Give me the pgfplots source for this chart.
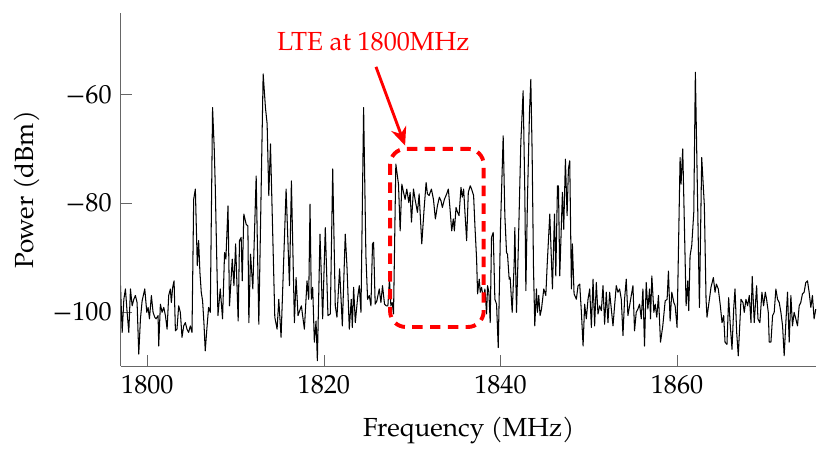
\documentclass[border=0pt]{standalone}
\usepackage{fontspec}
\setmainfont{TeX Gyre Pagella}
\usepackage{pgfplots}
\pgfplotsset{compat=1.18}
\usetikzlibrary{arrows.meta}
\pgfplotstableread{
x y
1796.80 -102.0
1796.96 -95.2
1797.15 -103.8
1797.34 -97.7
1797.52 -95.8
1797.71 -100.1
1797.90 -103.8
1798.09 -95.8
1798.28 -98.9
1798.47 -97.7
1798.65 -97.0
1798.84 -98.3
1799.03 -107.8
1799.22 -101.3
1799.41 -98.0
1799.71 -95.8
1799.94 -100.1
1800.09 -99.2
1800.24 -101.3
1800.46 -97.0
1800.65 -100.1
1800.84 -101.0
1800.99 -101.3
1801.22 -100.7
1801.29 -106.3
1801.48 -98.6
1801.67 -100.1
1801.86 -99.2
1802.05 -100.7
1802.24 -103.2
1802.42 -97.0
1802.61 -95.8
1802.72 -98.3
1802.87 -95.5
1803.03 -94.3
1803.18 -103.5
1803.36 -103.2
1803.55 -98.9
1803.74 -100.1
1803.93 -104.7
1804.12 -102.6
1804.31 -102.0
1804.49 -103.2
1804.68 -103.8
1804.87 -102.6
1805.06 -103.8
1805.25 -79.3
1805.44 -77.4
1805.66 -91.5
1805.81 -86.9
1805.96 -92.8
1806.11 -96.4
1806.26 -98.0
1806.41 -102.0
1806.56 -107.2
1806.75 -103.0
1806.94 -99.2
1807.13 -100.1
1807.39 -62.4
1807.58 -70.0
1807.70 -77.1
1807.77 -82.9
1808.00 -100.7
1808.26 -95.8
1808.52 -101.3
1808.75 -89.1
1808.90 -90.3
1809.14 -80.5
1809.31 -98.9
1809.62 -90.3
1809.81 -95.2
1810.00 -87.5
1810.29 -101.7
1810.44 -86.9
1810.63 -86.3
1810.75 -94.3
1810.93 -82.0
1811.20 -83.9
1811.39 -84.2
1811.50 -102.0
1811.69 -89.4
1811.95 -95.8
1812.33 -75.0
1812.63 -102.3
1813.12 -56.2
1813.38 -62.4
1813.57 -65.4
1813.76 -78.6
1813.95 -69.1
1814.44 -101.0
1814.70 -103.2
1814.89 -97.7
1815.15 -104.7
1815.72 -77.4
1816.10 -95.2
1816.32 -75.9
1816.66 -102.0
1816.85 -93.7
1817.07 -100.7
1817.45 -98.9
1817.79 -103.2
1818.09 -94.3
1818.28 -97.7
1818.43 -80.2
1818.58 -97.7
1818.73 -95.5
1818.92 -105.6
1819.11 -101.7
1819.26 -109.0
1819.56 -85.7
1819.86 -101.3
1820.16 -84.5
1820.46 -100.7
1820.73 -100.4
1821.00 -73.7
1821.29 -98.9
1821.48 -101.0
1821.78 -92.1
1822.09 -102.6
1822.42 -85.7
1822.61 -91.5
1822.88 -103.2
1823.10 -97.7
1823.22 -102.9
1823.37 -95.5
1823.56 -102.0
1823.82 -97.4
1824.01 -95.2
1824.20 -100.1
1824.50 -62.4
1824.76 -89.7
1824.95 -97.7
1825.14 -97.0
1825.33 -98.9
1825.51 -87.5
1825.63 -87.2
1825.81 -98.6
1826.00 -98.0
1826.27 -95.8
1826.46 -98.3
1826.64 -95.2
1826.87 -98.6
1827.06 -98.9
1827.25 -98.9
1827.43 -94.0
1827.59 -98.9
1827.74 -98.3
1827.89 -100.4
1828.15 -72.8
1828.45 -76.5
1828.64 -85.1
1828.83 -76.5
1829.02 -78.0
1829.20 -79.3
1829.39 -77.4
1829.62 -79.9
1829.77 -78.0
1829.92 -83.5
1830.15 -77.4
1830.33 -79.3
1830.60 -81.7
1830.79 -78.3
1831.09 -87.5
1831.35 -81.1
1831.58 -76.2
1831.73 -78.3
1831.92 -78.6
1832.18 -77.4
1832.41 -79.3
1832.63 -82.9
1832.86 -80.5
1833.08 -78.9
1833.27 -79.6
1833.42 -80.8
1833.65 -79.3
1833.91 -78.3
1834.10 -77.4
1834.29 -81.1
1834.48 -85.1
1834.66 -82.9
1834.78 -85.1
1834.97 -80.8
1835.15 -81.7
1835.31 -82.3
1835.53 -77.1
1835.68 -78.9
1835.83 -77.4
1835.98 -81.7
1836.17 -86.9
1836.36 -78.0
1836.58 -76.8
1836.73 -77.4
1836.96 -78.6
1837.11 -84.2
1837.30 -90.3
1837.41 -96.7
1837.60 -94.0
1837.71 -96.4
1837.86 -95.5
1838.09 -97.7
1838.24 -95.8
1838.43 -100.4
1838.54 -95.2
1838.69 -96.4
1838.84 -102.0
1838.99 -86.3
1839.18 -85.4
1839.37 -97.7
1839.56 -98.6
1839.75 -106.6
1840.01 -84.2
1840.31 -67.6
1840.50 -82.3
1840.69 -89.1
1840.80 -89.4
1840.99 -94.0
1841.10 -93.7
1841.33 -100.1
1841.56 -90.9
1841.63 -84.5
1841.82 -100.1
1842.01 -89.1
1842.31 -68.8
1842.57 -59.3
1842.76 -78.0
1842.88 -96.1
1843.06 -79.3
1843.29 -63.3
1843.44 -57.2
1843.59 -70.7
1843.74 -91.5
1843.89 -102.6
1844.08 -95.8
1844.19 -100.1
1844.34 -97.0
1844.49 -100.7
1844.65 -99.5
1844.91 -95.8
1845.14 -97.0
1845.29 -91.5
1845.59 -82.0
1845.89 -95.8
1846.12 -82.0
1846.27 -93.4
1846.46 -76.8
1846.57 -76.8
1846.72 -93.4
1847.02 -78.0
1847.17 -84.8
1847.36 -71.9
1847.55 -82.3
1847.70 -73.7
1847.85 -72.2
1848.04 -95.8
1848.15 -87.5
1848.34 -96.7
1848.60 -97.7
1848.79 -95.2
1848.98 -94.9
1849.17 -100.1
1849.36 -106.3
1849.54 -98.6
1849.73 -101.3
1849.92 -97.7
1850.11 -95.8
1850.30 -102.9
1850.49 -94.0
1850.67 -102.6
1850.86 -94.6
1851.05 -100.4
1851.24 -98.9
1851.43 -99.8
1851.62 -95.2
1851.80 -102.3
1851.99 -96.4
1852.18 -102.0
1852.37 -96.4
1852.56 -99.5
1852.75 -102.6
1852.93 -98.9
1853.12 -95.2
1853.31 -96.4
1853.50 -95.8
1853.69 -97.7
1853.88 -104.4
1854.06 -97.7
1854.25 -94.0
1854.44 -100.7
1854.63 -98.9
1854.82 -97.0
1855.01 -95.2
1855.19 -103.5
1855.38 -100.1
1855.57 -99.5
1855.76 -98.6
1855.95 -101.3
1856.14 -95.8
1856.32 -106.3
1856.51 -94.6
1856.70 -99.5
1856.89 -95.8
1857.00 -101.3
1857.15 -93.4
1857.38 -100.1
1857.53 -98.6
1857.71 -101.0
1857.90 -97.0
1858.13 -105.6
1858.39 -102.6
1858.66 -98.0
1858.88 -97.7
1859.03 -92.5
1859.22 -101.7
1859.41 -96.4
1859.64 -98.3
1859.79 -98.9
1860.01 -102.9
1860.35 -71.6
1860.46 -76.5
1860.65 -70.0
1860.84 -84.2
1861.03 -98.9
1861.22 -94.3
1861.33 -99.8
1861.48 -89.7
1861.67 -87.8
1861.90 -81.7
1862.08 -55.9
1862.27 -73.7
1862.54 -99.2
1862.80 -71.6
1863.10 -80.5
1863.29 -97.7
1863.40 -101.0
1863.67 -97.7
1863.85 -95.5
1864.12 -93.7
1864.31 -96.4
1864.46 -94.9
1864.68 -95.8
1864.91 -98.9
1865.10 -102.0
1865.29 -100.7
1865.44 -105.6
1865.66 -106.0
1865.85 -97.4
1866.04 -102.6
1866.23 -106.9
1866.42 -99.5
1866.57 -95.8
1866.76 -103.8
1866.94 -108.1
1867.25 -97.7
1867.47 -98.3
1867.62 -100.1
1867.81 -97.7
1868.00 -98.9
1868.19 -97.0
1868.38 -102.0
1868.52 -93.5
1868.75 -102.0
1869.02 -95.2
1869.17 -101.3
1869.39 -102.0
1869.62 -96.4
1869.81 -98.9
1870.00 -96.4
1870.15 -97.7
1870.34 -100.1
1870.45 -105.6
1870.64 -105.6
1870.83 -100.7
1871.01 -100.1
1871.20 -95.8
1871.39 -97.7
1871.58 -98.3
1871.77 -100.1
1871.96 -102.6
1872.14 -108.1
1872.33 -102.0
1872.52 -96.4
1872.71 -105.6
1872.90 -97.0
1873.08 -102.6
1873.27 -100.1
1873.46 -101.3
1873.65 -102.6
1873.84 -98.9
1874.02 -98.3
1874.21 -96.7
1874.40 -96.4
1874.59 -94.6
1874.78 -94.3
1874.97 -96.4
1875.16 -99.2
1875.34 -97.0
1875.53 -101.3
1875.72 -99.5
}\spectrum
\begin{document}
\begin{tikzpicture}
\begin{axis}[
  scale only axis,
  width=266pt, height=135pt,
  xmin=1797, xmax=1875.8,
  ymin=-110, ymax=-45,
  axis x line*=bottom,
  axis y line*=left,
  axis line style={black!60},
  tick style={black!60},
  xtick={1800,1820,1840,1860},
  xticklabels={1800,1820,1840,1860},
  ytick={-100,-80,-60},
  yticklabels={−100,−80,−60},
  xlabel={Frequency (MHz)},
  ylabel={Power (dBm)},
  xlabel style={yshift=-1.8pt},
  ylabel style={yshift=-2pt},
  clip=true,
]
\addplot[black, line width=0.4pt, line join=round] table[x=x,y=y] {\spectrum};
\draw[red, line width=1.5pt, dash pattern=on 4pt off 2.8pt, rounded corners=6pt]
  (axis cs:1827.5,-70) rectangle (axis cs:1838.1,-102.8);
\draw[red, line width=1.1pt, -{Stealth[length=7pt,width=6pt]}]
  (axis cs:1825.9,-54.9) -- (axis cs:1829.2,-69.4);
\node[red] at (axis cs:1825.6,-50.3) {LTE at 1800MHz};
\end{axis}
\path ([yshift=5pt]current axis.north);
\path ([xshift=-2pt]current bounding box.west);
\end{tikzpicture}
\end{document}
